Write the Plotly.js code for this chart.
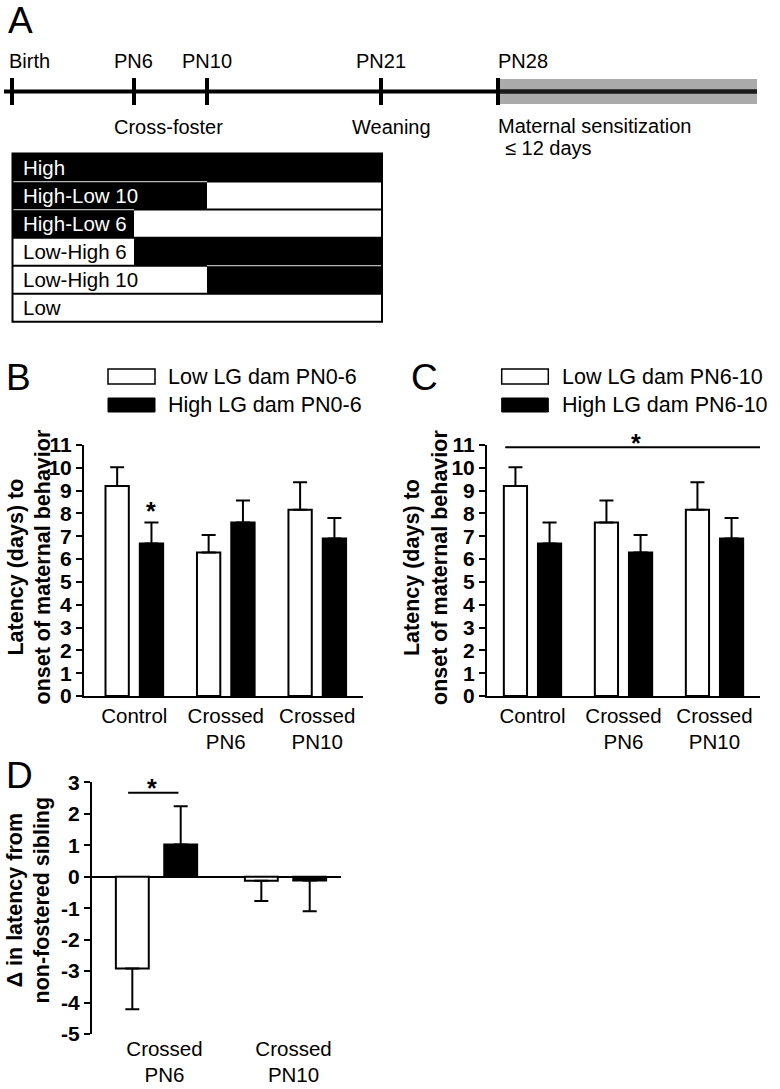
<!DOCTYPE html>
<html><head><meta charset="utf-8">
<script src="https://cdn.plot.ly/plotly-3.0.1.min.js"></script>
<style>html,body{margin:0;padding:0;background:#fff}</style>
</head><body>
<div id="chart" style="width:780px;height:1089px"></div>
<script>
// ---------- data ----------
const categories = ['Control', 'Crossed<br>PN6', 'Crossed<br>PN10'];
const lowB = [9.2, 6.29, 8.16];
const lowBErr = [0.82, 0.77, 1.21];
const highB = [6.68, 7.6, 6.9];
const highBErr = [0.92, 0.97, 0.9];
const lowC = [9.2, 7.6, 8.16];
const lowCErr = [0.82, 0.97, 1.21];
const highC = [6.68, 6.29, 6.9];
const highCErr = [0.92, 0.77, 0.9];
const dCategories = ['Crossed<br>PN6', 'Crossed<br>PN10'];
const lowD = [-2.92, -0.13];
const lowDErr = [1.29, 0.64];
const highD = [1.02, -0.12];
const highDErr = [1.22, 0.98];
const yTicksBC = [0,1,2,3,4,5,6,7,8,9,10,11];
const yTicksD = [-5,-4,-3,-2,-1,0,1,2,3];
const yTickTextD = ['-5','-4','-3','-2','-1','0','1','2','3'];
const legendB = ['Low LG dam PN0-6', 'High LG dam PN0-6'];
const legendC = ['Low LG dam PN6-10', 'High LG dam PN6-10'];
const timelineLabels = ['Birth', 'PN6', 'PN10', 'PN21', 'PN28'];
const timelineDays = [0, 6, 10, 21, 28];
const timelinePos = [12, 134, 207, 381, 498]; // schematic (non-linear) positions
const eventLabels = ['Cross-foster', 'Weaning', 'Maternal sensitization', '\u2264 12 days'];
const rowLabels = ['High', 'High-Low 10', 'High-Low 6', 'Low-High 6', 'Low-High 10', 'Low'];
const highFrom = [0, 0, 0, 6, 10, null];
const highTo = [21, 10, 6, 21, 21, null];

// ---------- helpers ----------
const W = 780, H = 1089;
const PX = x => x / W;
const PY = y => 1 - y / H;
const FONT = 'Liberation Sans, Arial, Helvetica, sans-serif';
const dayPos = d => timelinePos[timelineDays.indexOf(d)];

function errDir(vals, sems) {
  return {
    type: 'data', symmetric: false,
    array: vals.map((v, i) => v >= 0 ? sems[i] : 0),
    arrayminus: vals.map((v, i) => v < 0 ? sems[i] : 0),
    color: 'black', thickness: 2, width: 7
  };
}
function barTrace(x, y, err, fill, xa, ya) {
  return {
    type: 'bar', x: x, y: y, xaxis: xa, yaxis: ya,
    marker: {color: fill, line: {color: 'black', width: 2}},
    error_y: errDir(y, err), hoverinfo: 'skip', showlegend: false
  };
}

const traces = [
  barTrace(categories, lowB, lowBErr, 'white', 'x', 'y'),
  barTrace(categories, highB, highBErr, 'black', 'x', 'y'),
  barTrace(categories, lowC, lowCErr, 'white', 'x2', 'y2'),
  barTrace(categories, highC, highCErr, 'black', 'x2', 'y2'),
  barTrace(dCategories, lowD, lowDErr, 'white', 'x3', 'y3'),
  barTrace(dCategories, highD, highDErr, 'black', 'x3', 'y3'),
  {type: 'scatter', x: [null], y: [null], xaxis: 'x4', yaxis: 'y4', showlegend: false, hoverinfo: 'skip'}
];

// ---------- shapes ----------
const shapes = [];
const S = (o) => Object.assign({xref: 'x4', yref: 'y4', layer: 'above'}, o);

// timeline
const tlY = 91.5;
shapes.push(S({type: 'rect', x0: timelinePos[4] + 2, x1: 757, y0: 79, y1: 104, fillcolor: '#aaaaaa', line: {width: 0}}));
shapes.push(S({type: 'line', x0: 4, x1: timelinePos[4], y0: tlY, y1: tlY, line: {color: 'black', width: 4}}));
shapes.push(S({type: 'line', x0: timelinePos[4], x1: 757, y0: tlY, y1: tlY, line: {color: '#1a1a1a', width: 4.5}}));
timelinePos.forEach(p => shapes.push(S({type: 'line', x0: p, x1: p, y0: 78, y1: 105, line: {color: 'black', width: 4}})));

// table
const tX0 = dayPos(0) + 0.5, tX1 = dayPos(21) + 1;
const tY0 = 153.5, rowH = 28.05;
rowLabels.forEach((lab, i) => {
  const y0 = tY0 + i * rowH, y1 = y0 + rowH;
  shapes.push(S({type: 'rect', x0: tX0, x1: tX1, y0: y0, y1: y1, fillcolor: 'white', line: {width: 0}}));
  if (highFrom[i] !== null) {
    const a = highFrom[i] === 0 ? tX0 : dayPos(highFrom[i]);
    const b = highTo[i] === 21 ? tX1 : dayPos(highTo[i]);
    shapes.push(S({type: 'rect', x0: a, x1: b, y0: y0, y1: y1, fillcolor: 'black', line: {width: 0}}));
  }
});
for (let i = 1; i < rowLabels.length; i++) {
  const y = tY0 + i * rowH;
  shapes.push(S({type: 'line', x0: tX0, x1: tX1, y0: y, y1: y, line: {color: 'black', width: 2}}));
  if (highFrom[i] !== null && highFrom[i - 1] !== null) {
    const a = Math.max(highFrom[i], highFrom[i - 1]), b = Math.min(highTo[i], highTo[i - 1]);
    if (b > a) {
      const xa = a === 0 ? tX0 : dayPos(a), xb = b === 21 ? tX1 : dayPos(b);
      shapes.push(S({type: 'line', x0: xa, x1: xb, y0: y, y1: y, line: {color: '#b8b8b8', width: 1.2}}));
    }
  }
}
shapes.push(S({type: 'rect', x0: tX0, x1: tX1, y0: tY0, y1: tY0 + 6 * rowH, line: {color: 'black', width: 2}}));

// legends B & C
[[108, 155], [501.7, 548.3]].forEach(([a, b]) => {
  shapes.push({type: 'rect', xref: 'paper', yref: 'paper', x0: PX(a), x1: PX(b), y0: PY(384), y1: PY(369), fillcolor: 'white', line: {color: 'black', width: 1.5}});
  shapes.push({type: 'rect', xref: 'paper', yref: 'paper', x0: PX(a), x1: PX(b), y0: PY(412), y1: PY(398), fillcolor: 'black', line: {color: 'black', width: 1}});
});

// significance lines
shapes.push({type: 'line', xref: 'x2', yref: 'y2', x0: -0.3, x1: 2.52, y0: 10.9, y1: 10.9, line: {color: 'black', width: 2}});
shapes.push({type: 'line', xref: 'x3', yref: 'y3', x0: -0.22, x1: 0.17, y0: 2.67, y1: 2.67, line: {color: 'black', width: 2}});

// ---------- annotations ----------
const ann = [];
const A = (o) => Object.assign({showarrow: false, font: {family: FONT, size: 20, color: 'black'}}, o);

// panel letters
[['A', 6, 20], ['B', 4, 377], ['C', 409, 377], ['D', 4, 775]].forEach(([t, x, y]) =>
  ann.push(A({text: t, xref: 'paper', yref: 'paper', x: PX(x), y: PY(y), xanchor: 'left', yanchor: 'middle', font: {family: FONT, size: 37}})));

// timeline labels
const tlAnchor = ['left', 'center', 'center', 'center', 'left'];
const tlShift = [-5, -1, 0, 0, -2];
timelineLabels.forEach((t, i) => ann.push(A({text: t, xref: 'x4', yref: 'y4', x: timelinePos[i] + tlShift[i], y: 61, xanchor: tlAnchor[i], yanchor: 'middle'})));
ann.push(A({text: eventLabels[0], xref: 'x4', yref: 'y4', x: 168, y: 127, xanchor: 'center', yanchor: 'middle'}));
ann.push(A({text: eventLabels[1], xref: 'x4', yref: 'y4', x: 391, y: 127, xanchor: 'center', yanchor: 'middle'}));
ann.push(A({text: eventLabels[2], xref: 'x4', yref: 'y4', x: 496, y: 126, xanchor: 'left', yanchor: 'middle'}));
ann.push(A({text: eventLabels[3], xref: 'x4', yref: 'y4', x: 503, y: 148, xanchor: 'left', yanchor: 'middle'}));

// table labels
rowLabels.forEach((t, i) => ann.push(A({text: t, xref: 'x4', yref: 'y4', x: 21, y: tY0 + (i + 0.5) * rowH, xanchor: 'left', yanchor: 'middle',
  font: {family: FONT, size: 20.5, color: highFrom[i] === 0 ? 'white' : 'black'}})));

// legend texts
legendB.forEach((t, i) => ann.push(A({text: t, xref: 'paper', yref: 'paper', x: PX(166), y: PY(i ? 405 : 377), xanchor: 'left', yanchor: 'middle',
  font: {family: FONT, size: 21.5, color: 'black'}})));
legendC.forEach((t, i) => ann.push(A({text: t, xref: 'paper', yref: 'paper', x: PX(560), y: PY(i ? 405 : 377), xanchor: 'left', yanchor: 'middle',
  font: {family: FONT, size: 21.5, color: 'black'}})));

// y titles
const yt = (t, x, y) => ann.push(A({text: t, xref: 'paper', yref: 'paper', x: PX(x), y: PY(y), xanchor: 'center', yanchor: 'middle', textangle: -90,
  font: {family: FONT, size: 21.5, weight: 'bold'}}));
yt('Latency (days) to<br>onset of maternal behavior', 29.5, 567);
yt('Latency (days) to<br>onset of maternal behavior', 426, 567);
yt('\u0394 in latency from<br>non-fostered sibling', 28.5, 900);

// asterisks
[[151, 505], [635.7, 437], [152, 782]].forEach(([x, y]) => ann.push(A({text: '*', xref: 'paper', yref: 'paper', x: PX(x), y: PY(y + 6), xanchor: 'center', yanchor: 'middle',
  font: {family: FONT, size: 25, weight: 'bold'}})));

// ---------- layout ----------
const yAxisBase = {showline: true, linecolor: 'black', linewidth: 2, ticks: 'outside', ticklen: 6, tickwidth: 2, tickcolor: 'black',
  showgrid: false, zeroline: false, tickfont: {family: FONT, size: 21, weight: 'bold', color: 'black'}, fixedrange: true};
const xAxisBase = {type: 'category', showline: true, linecolor: 'black', linewidth: 2, ticks: '', showgrid: false, zeroline: false,
  tickfont: {family: FONT, size: 20.5, color: 'black'}, fixedrange: true};

const layout = {
  width: W, height: H, margin: {l: 0, r: 0, t: 0, b: 0}, paper_bgcolor: 'white', plot_bgcolor: 'rgba(0,0,0,0)',
  showlegend: false, barmode: 'group', bargap: 0.25, bargroupgap: 0.32,
  font: {family: FONT, color: 'black'},
  xaxis: Object.assign({}, xAxisBase, {domain: [PX(84), PX(363)], range: [-0.55, 2.5], anchor: 'y'}),
  yaxis: Object.assign({}, yAxisBase, {domain: [PY(696), PY(445)], range: [0, 11], tickvals: yTicksBC, anchor: 'x'}),
  xaxis2: Object.assign({}, xAxisBase, {domain: [PX(487), PX(760)], range: [-0.5, 2.5], anchor: 'y2'}),
  yaxis2: Object.assign({}, yAxisBase, {domain: [PY(696), PY(445)], range: [0, 11], tickvals: yTicksBC, anchor: 'x2'}),
  xaxis3: Object.assign({}, xAxisBase, {domain: [PX(92), PX(341)], range: [-0.5, 1.43], anchor: 'y3', showline: false, ticklabelshift: 8}),
  yaxis3: Object.assign({}, yAxisBase, {domain: [PY(1034), PY(782.3)], range: [-5, 3], tickvals: yTicksD, ticktext: yTickTextD, anchor: 'x3',
    zeroline: true, zerolinecolor: 'black', zerolinewidth: 2}),
  xaxis4: {domain: [0, 1], range: [0, W], visible: false, anchor: 'y4', fixedrange: true},
  yaxis4: {domain: [0, 1], range: [H, 0], visible: false, anchor: 'x4', fixedrange: true},
  shapes: shapes,
  annotations: ann
};

Plotly.newPlot('chart', traces, layout, {staticPlot: true, displayModeBar: false});
</script>
</body></html>
